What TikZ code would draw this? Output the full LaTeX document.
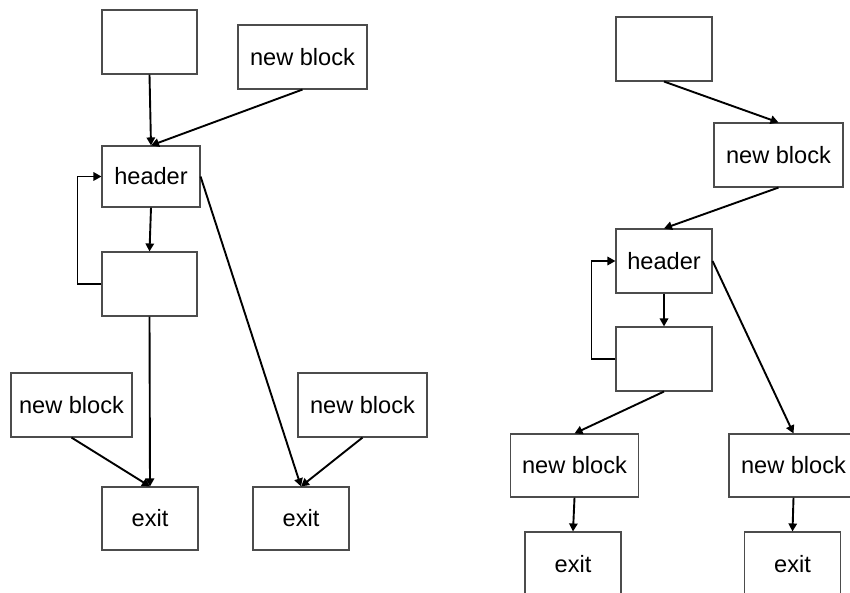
\documentclass[tikz,border=0pt]{standalone}
\usepackage{fontspec}
\setmainfont{Liberation Sans}
\usetikzlibrary{arrows.meta}
\begin{document}
\begin{tikzpicture}[x=0.5pt,y=-0.5pt,
  blk/.style={draw=black!70, line width=0.55pt, inner sep=0pt, fill=white,
    font=\fontsize{11.8}{14}\selectfont},
  sq/.style={blk, minimum width=48pt, minimum height=32pt},
  nb/.style={blk, minimum width=64.5pt, minimum height=32pt},
  arr/.style={line width=0.95pt, -{Triangle[length=4pt,width=4.2pt]}}]
\useasboundingbox (0,0) rectangle (850,593);
\clip (0,0) rectangle (850,593);
% left diagram
\node[sq, minimum width=47.5pt] (t1) at (149.5,42) {};
\node[nb] (n1) at (302.5,57) {new block};
\node[sq, minimum width=49pt, minimum height=30.5pt] (h1) at (151,176.5) {header};
\node[sq, minimum width=47.5pt] (m1) at (149.5,284) {};
\node[nb, minimum width=60.5pt] (nl1) at (71.5,405) {new block};
\node[nb] (nr1) at (362.5,405) {new block};
\node[sq, minimum height=31.5pt] (e1) at (150,518.5) {exit};
\node[sq, minimum height=31.5pt] (e2) at (301,518.5) {exit};
\draw[arr] (t1.south) -- (h1.north);
\draw[arr] (n1.south) -- (h1.north);
\draw[arr] (h1.south) -- (m1.north);
\draw[arr] (m1.west) -- ++(-24,0) |- (h1.west);
\draw[arr] (h1.east) -- (e2.north);
\draw[arr] (m1.south) -- (e1.north);
\draw[arr] (nl1.south) -- (e1.north);
\draw[arr] (nr1.south) -- (e2.north);
% right diagram
\node[sq] (t2) at (664,49) {};
\node[nb] (n2) at (778.5,155) {new block};
\node[sq] (h2) at (664,261) {header};
\node[sq] (m2) at (664,359) {};
\node[nb, minimum width=64pt, minimum height=31.5pt] (nl2) at (574.5,465.5) {new block};
\node[nb, minimum height=31.5pt] (nr2) at (793.5,465.5) {new block};
\node[sq] (el2) at (573,564) {exit};
\node[sq] (er2) at (792.5,564) {exit};
\draw[arr] (t2.south) -- (n2.north);
\draw[arr] (n2.south) -- (h2.north);
\draw[arr] (h2.south) -- (m2.north);
\draw[arr] (m2.west) -- ++(-24,0) |- (h2.west);
\draw[arr] (h2.east) -- (nr2.north);
\draw[arr] (m2.south) -- (nl2.north);
\draw[arr] (nl2.south) -- (el2.north);
\draw[arr] (nr2.south) -- (er2.north);
\end{tikzpicture}
\end{document}
